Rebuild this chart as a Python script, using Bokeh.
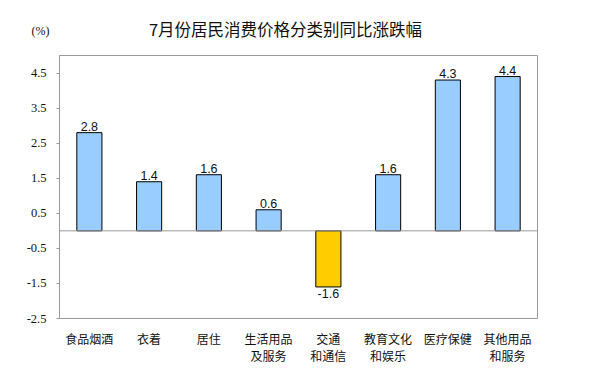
from bokeh.plotting import figure
from bokeh.models import ColumnDataSource, FixedTicker, NumeralTickFormatter, Label, Span, Range1d
from bokeh.layouts import column
from bokeh.core.properties import value
from bokeh.embed import file_html
from bokeh.resources import INLINE

title_text = "7月份居民消费价格分类别同比涨跌幅"
unit_text = "(%)"
categories = ["食品烟酒", "衣着", "居住", "生活用品\n及服务", "交通\n和通信", "教育文化\n和娱乐", "医疗保健", "其他用品\n和服务"]
values = [2.8, 1.4, 1.6, 0.6, -1.6, 1.6, 4.3, 4.4]
y_ticks = [4.5, 3.5, 2.5, 1.5, 0.5, -0.5, -1.5, -2.5]

pos_color = "#99CCFF"
neg_color = "#FFCC00"
text_color = "#111111"

xs = list(range(1, len(categories) + 1))
colors = [pos_color if v >= 0 else neg_color for v in values]
labels = [f"{v:.1f}" for v in values]

# ---- header (title + unit) ----
HEAD_H = 45
head = figure(width=592, height=HEAD_H, output_backend="svg", toolbar_location=None,
              x_range=Range1d(0, 592), y_range=Range1d(0, HEAD_H),
              min_border=0, min_border_left=0, min_border_right=0, min_border_top=0, min_border_bottom=0)
head.frame_align = False
head.axis.visible = False
head.grid.visible = False
head.outline_line_color = None
head.background_fill_color = "white"
head.border_fill_color = "white"
head.add_layout(Label(x=285, y=HEAD_H - 28, text=title_text, text_align="center", text_baseline="middle",
                      text_font="Noto Sans CJK SC", text_font_size="16.5px", text_color=text_color))
head.add_layout(Label(x=40, y=HEAD_H - 30, text=unit_text, text_align="center", text_baseline="middle",
                      text_font="Liberation Serif", text_font_size="12px", text_color=text_color))

# ---- main chart ----
p = figure(width=592, height=378 - HEAD_H, output_backend="svg", toolbar_location=None,
           x_range=Range1d(0.5, len(categories) + 0.5), y_range=Range1d(-2.5, 5.0),
           min_border_left=59, min_border_right=55, min_border_top=55 - HEAD_H, min_border_bottom=60)
p.frame_align = False
p.background_fill_color = "white"
p.border_fill_color = "white"
p.outline_line_color = "#9a9a9a"
p.outline_line_width = 1
p.xgrid.visible = False
p.ygrid.visible = False

src = ColumnDataSource(dict(x=xs, top=values, color=colors, label=labels))
p.vbar(x="x", top="top", bottom=0, width=0.42, fill_color="color", line_color="black",
       line_width=1, source=src)

p.add_layout(Span(location=0, dimension="width", line_color="#9a9a9a", line_width=1))

pos_src = ColumnDataSource(dict(x=[x for x, v in zip(xs, values) if v >= 0],
                                y=[v for v in values if v >= 0],
                                label=[l for l, v in zip(labels, values) if v >= 0]))
neg_src = ColumnDataSource(dict(x=[x for x, v in zip(xs, values) if v < 0],
                                y=[v for v in values if v < 0],
                                label=[l for l, v in zip(labels, values) if v < 0]))
p.text(x="x", y="y", text="label", source=pos_src, text_align="center", text_baseline="bottom",
       y_offset=-2, text_font=value("Liberation Sans"), text_font_size="12.5px", text_color=text_color)
p.text(x="x", y="y", text="label", source=neg_src, text_align="center", text_baseline="top",
       y_offset=2, text_font=value("Liberation Sans"), text_font_size="12.5px", text_color=text_color)

# y axis
yax = p.yaxis[0]
yax.ticker = FixedTicker(ticks=y_ticks)
yax.formatter = NumeralTickFormatter(format="0.0")
yax.axis_line_color = "#9a9a9a"
yax.major_tick_line_color = "#9a9a9a"
yax.major_tick_out = 3
yax.major_tick_in = 0
yax.minor_tick_line_color = None
yax.major_label_text_font = "Liberation Serif"
yax.major_label_text_font_size = "12.5px"
yax.major_label_text_color = text_color
yax.major_label_standoff = 10

# x axis
xax = p.xaxis[0]
xax.ticker = FixedTicker(ticks=xs)
xax.major_label_overrides = {x: c for x, c in zip(xs, categories)}
xax.axis_line_color = None
xax.major_tick_line_color = None
xax.minor_tick_line_color = None
xax.major_label_text_font = "Noto Sans CJK SC"
xax.major_label_text_font_size = "12px"
xax.major_label_text_color = text_color
xax.major_label_text_line_height = 1.0
xax.major_label_standoff = 5

layout = column(head, p, spacing=0)
open("out.html", "w").write(file_html(layout, INLINE))
